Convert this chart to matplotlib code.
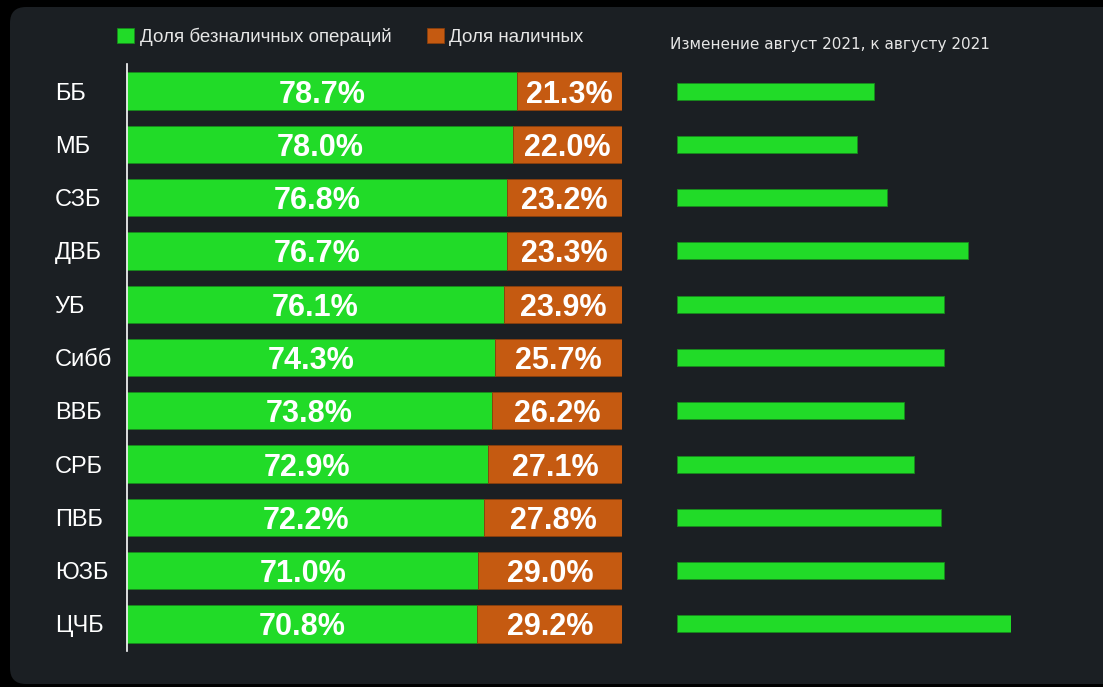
import matplotlib.pyplot as plt
from matplotlib.patches import FancyBboxPatch

plt.rcParams["font.family"] = ["Liberation Sans", "DejaVu Sans"]

# Данные
regions = ["ББ", "МБ", "СЗБ", "ДВБ", "УБ", "Сибб", "ВВБ", "СРБ", "ПВБ", "ЮЗБ", "ЦЧБ"]
cashless = [78.7, 78.0, 76.8, 76.7, 76.1, 74.3, 73.8, 72.9, 72.2, 71.0, 70.8]
cash = [21.3, 22.0, 23.2, 23.3, 23.9, 25.7, 26.2, 27.1, 27.8, 29.0, 29.2]
change = [5.9, 5.4, 6.3, 8.7, 8.0, 8.0, 6.8, 7.1, 7.9, 8.0, 10.0]

GREEN = "#21db28"
ORANGE = "#c55a11"
BG = "#1b1f23"

W, H = 1103, 687
fig = plt.figure(figsize=(W / 100, H / 100), dpi=100, facecolor="black")

# тёмная панель со скруглёнными углами
panel = FancyBboxPatch((0.10, 0.03), 12.0, 6.77,
                       boxstyle="round,pad=0,rounding_size=0.16",
                       transform=fig.dpi_scale_trans, facecolor=BG,
                       edgecolor="none", zorder=-10)
fig.patches.append(panel)

top_px, bot_px = 64.5, 650.5
y0 = 1 - bot_px / H
hh = (bot_px - top_px) / H

ax = fig.add_axes([127 / W, y0, 495 / W, hh])
ax2 = fig.add_axes([677 / W, y0, 334 / W, hh])
for a in (ax, ax2):
    a.set_facecolor("none")
    for s in a.spines.values():
        s.set_visible(False)

pos = range(len(regions))
b1 = ax.barh(pos, cashless, height=0.70, color=GREEN, edgecolor="#178a1c", linewidth=0.6)
b2 = ax.barh(pos, cash, left=cashless, height=0.70, color=ORANGE, edgecolor="#8a3f0c", linewidth=0.6)

for i in pos:
    ax.text(cashless[i] / 2, i, f"{cashless[i]:.1f}%", ha="center", va="center_baseline",
            color="white", fontsize=22, fontweight="bold")
    ax.text(cashless[i] + cash[i] / 2, i, f"{cash[i]:.1f}%", ha="center", va="center_baseline",
            color="white", fontsize=22, fontweight="bold")

ax.set_xlim(0, 100)
ax.set_ylim(len(regions) - 0.5, -0.5)
ax.spines["left"].set_visible(True)
ax.spines["left"].set_color("white")
ax.spines["left"].set_linewidth(1.2)
ax.set_xticks([])
ax.set_yticks(list(pos))
ax.set_yticklabels(regions, fontsize=17, color="white", ha="left", va="center_baseline")
ax.tick_params(axis="y", length=0, pad=52)

ax2.barh(pos, change, height=0.32, color=GREEN, edgecolor="#178a1c", linewidth=0.6)
ax2.set_xlim(0, 10)
ax2.set_ylim(len(regions) - 0.5, -0.5)
ax2.set_xticks([])
ax2.set_yticks([])

fig.text(670 / W, 1 - 45 / H, "Изменение август 2021, к августу 2021",
         ha="left", va="center", color="#e6e6e6", fontsize=11,
         family=["DejaVu Sans"])

fig.legend([b1, b2], ["Доля безналичных операций", "Доля наличных"],
           loc="center left", bbox_to_anchor=(117 / W, 1 - 37 / H), ncol=2,
           frameon=False, fontsize=13.5, labelcolor="#e6e6e6",
           handlelength=0.9, handleheight=0.9, handletextpad=0.3,
           columnspacing=1.9, borderpad=0, borderaxespad=0)

fig.savefig("out.png", dpi=100, facecolor=fig.get_facecolor())
